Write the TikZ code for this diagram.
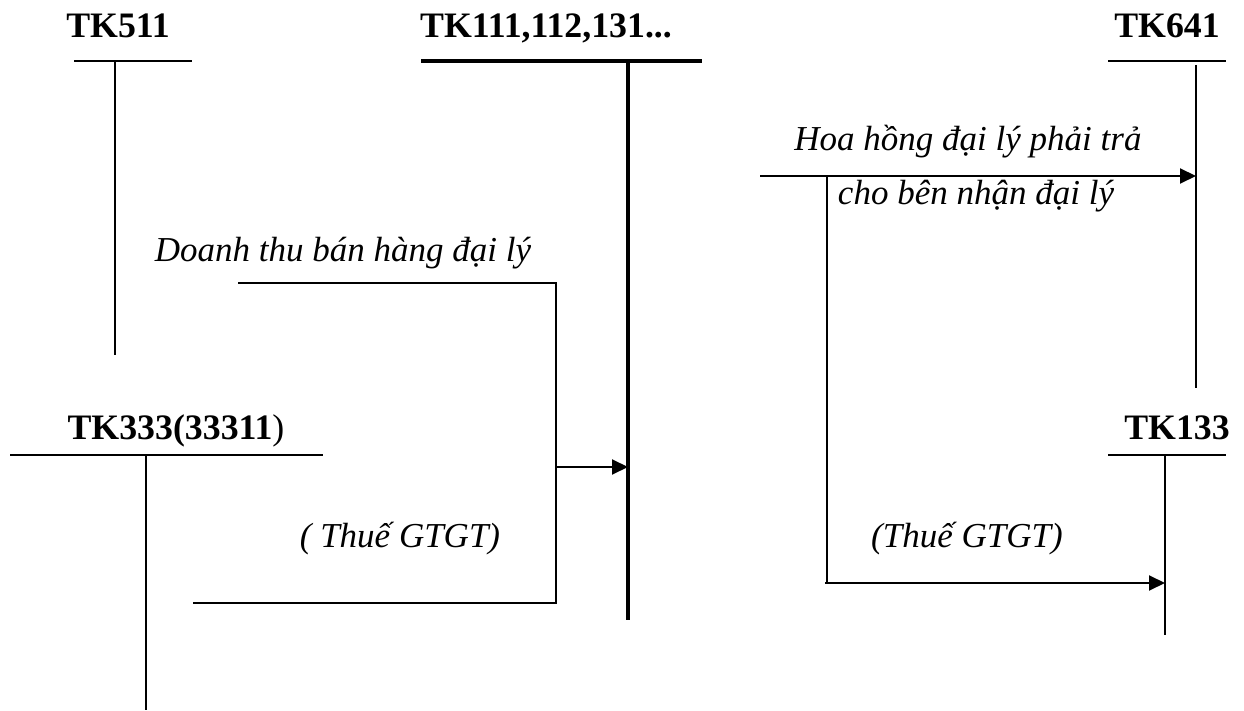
\documentclass[tikz,border=0pt]{standalone}
\usepackage{fontspec}
\setmainfont{Liberation Serif}
\usetikzlibrary{arrows.meta}
\tikzset{
  acct/.style={anchor=base,font=\fontsize{17.9}{21}\selectfont\bfseries},
  note/.style={anchor=base,font=\fontsize{17.5}{21}\selectfont\itshape},
  tline/.style={line width=1pt},
  tthick/.style={line width=2pt},
  flow/.style={-{Triangle[length=8pt,width=7.5pt]},line width=1pt}
  }

\begin{document}
\begin{tikzpicture}[x=0.5pt,y=-0.5pt]
      \useasboundingbox (0,0) rectangle (1244,711);
      % account titles
      \node[acct] (tk511) at (118,38) {TK511};
      \node[acct] (tk111) at (546,38) {TK111,112,131...};
      \node[acct] (tk641) at (1167,38) {TK641};
      \node[acct] (tk333) at (176,440) {TK333(33311\mdseries)};
      \node[acct] (tk133) at (1177,440) {TK133};
      % T accounts
      \coordinate (a1) at (74,61);   \coordinate (a2) at (192,61);
      \coordinate (a3) at (115,61);  \coordinate (a4) at (115,355);
      \coordinate (b1) at (421,61);  \coordinate (b2) at (702,61);
      \coordinate (b3) at (628,61);  \coordinate (b4) at (628,620);
      \coordinate (c1) at (1108,61); \coordinate (c2) at (1226,61);
      \coordinate (c3) at (1196,65); \coordinate (c4) at (1196,388);
      \coordinate (d1) at (10,455);  \coordinate (d2) at (323,455);
      \coordinate (d3) at (146,455); \coordinate (d4) at (146,710);
      \coordinate (e1) at (1108,455);\coordinate (e2) at (1226,455);
      \coordinate (e3) at (1165,455);\coordinate (e4) at (1165,635);
      \draw[tline] (a1) -- (a2) (a3) -- (a4);
      \draw[tthick] (b1) -- (b2) (b3) -- (b4);
      \draw[tline] (c1) -- (c2) (c3) -- (c4);
      \draw[tline] (d1) -- (d2) (d3) -- (d4);
      \draw[tline] (e1) -- (e2) (e3) -- (e4);
      % sales through agent
      \coordinate (s1) at (238,283); \coordinate (s2) at (556,283);
      \coordinate (s3) at (556,603); \coordinate (s4) at (193,603);
      \coordinate (s5) at (556,467);
      \draw[tline] (s1) -- (s2) -- (s3) -- (s4);
      \draw[flow] (s5) -- (s5 -| b3);
      \node[note] (doanhthu) at (343,262) {Doanh thu bán hàng đại lý};
      \node[note] (thue1) at (400,547) {( Thuế GTGT)};
      % commission
      \coordinate (h1) at (760,176); \coordinate (h2) at (827,176);
      \coordinate (h3) at (827,583); \coordinate (h4) at (825,583);
      \draw[flow] (h1) -- (h1 -| c3);
      \draw[tline] (h2) -- (h3);
      \draw[flow] (h4) -- (h4 -| e3);
      \node[note] (hoahong) at (968,151) {Hoa hồng đại lý phải trả};
      \node[note] (benNhan) at (976,205) {cho bên nhận đại lý};
      \node[note] (thue2) at (967,547) {(Thuế GTGT)};
\end{tikzpicture}
\end{document}
